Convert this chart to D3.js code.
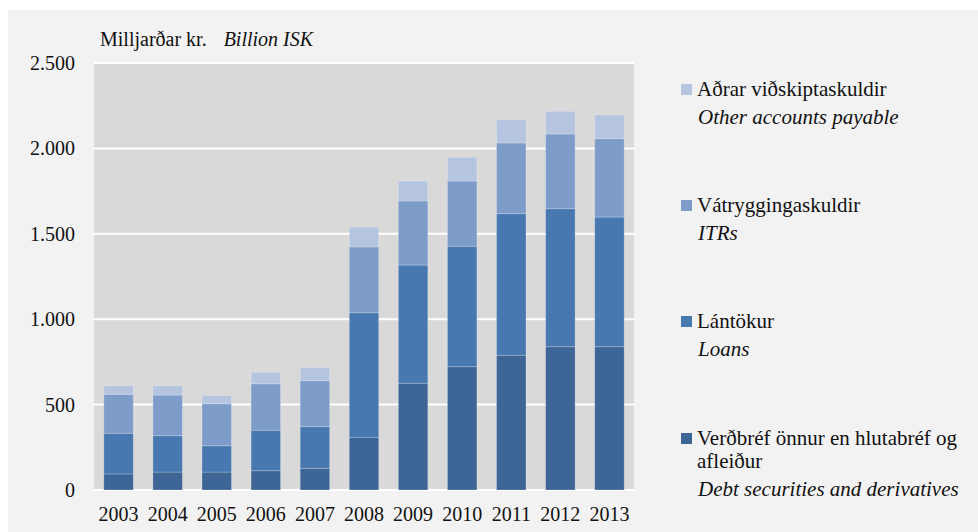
<!DOCTYPE html>
<html>
<head>
<meta charset="utf-8">
<script src="https://cdn.jsdelivr.net/npm/d3@7"></script>
<style>
  body { margin: 0; background: #fff; }
  svg { display: block; }
</style>
</head>
<body>
<div id="chart"></div>
<script>
const years = ['2003', '2004', '2005', '2006', '2007', '2008', '2009', '2010', '2011', '2012', '2013'];
const debtSecurities = [94, 105, 105, 113, 127, 309, 625, 722, 789, 839, 839];
const loans = [238, 213, 154, 237, 244, 729, 692, 705, 829, 808, 759];
const itrs = [228, 238, 246, 272, 269, 385, 375, 382, 414, 437, 459];
const otherPayable = [50, 54, 47, 67, 78, 117, 117, 139, 136, 133, 139];
const yTicks = [0, 500, 1000, 1500, 2000, 2500];
const tickLabels = ['0', '500', '1.000', '1.500', '2.000', '2.500'];

const seriesKeys = ['debt', 'loans', 'itrs', 'other'];
const colors = {debt: '#3d6596', loans: '#4878b0', itrs: '#7e9cc9', other: '#b5c4df'};
const FONT = 'Liberation Serif';

// legend is listed top to bottom, reverse of stacking order
const legendItems = [
  {key: 'other', lines: ['Aðrar viðskiptaskuldir'], en: 'Other accounts payable'},
  {key: 'itrs', lines: ['Vátryggingaskuldir'], en: 'ITRs'},
  {key: 'loans', lines: ['Lántökur'], en: 'Loans'},
  {key: 'debt', lines: ['Verðbréf önnur en hlutabréf og', 'afleiður'], en: 'Debt securities and derivatives'}
];

const width = 978, height = 532;
const margin = {top: 63, right: 344, bottom: 42, left: 94};
const innerW = width - margin.left - margin.right;
const innerH = height - margin.top - margin.bottom;

const table = years.map((y, i) => ({
  year: y,
  debt: debtSecurities[i],
  loans: loans[i],
  itrs: itrs[i],
  other: otherPayable[i]
}));

const stacked = d3.stack().keys(seriesKeys)(table);

const x = d3.scaleBand().domain(years).range([0, innerW]).paddingInner(0.4).paddingOuter(0.2);
const y = d3.scaleLinear().domain([0, 2500]).range([innerH, 0]);

const svg = d3.select('#chart').append('svg')
  .attr('width', width)
  .attr('height', height)
  .attr('font-family', FONT);

svg.append('rect')
  .attr('x', 8).attr('y', 10)
  .attr('width', width - 8).attr('height', height - 10)
  .attr('fill', '#f2f2f2');

const g = svg.append('g')
  .attr('transform', 'translate(' + margin.left + ',' + margin.top + ')');

g.append('rect')
  .attr('width', innerW).attr('height', innerH)
  .attr('fill', '#d9d9d9');

g.selectAll('.grid')
  .data(yTicks)
  .enter().append('line')
  .attr('x1', 0).attr('x2', innerW)
  .attr('y1', d => y(d)).attr('y2', d => y(d))
  .attr('stroke', '#fff')
  .attr('stroke-width', 2);

const yAxis = d3.axisLeft(y).tickValues(yTicks)
  .tickFormat((d, i) => tickLabels[i]).tickSize(0).tickPadding(19);
g.append('g')
  .call(yAxis)
  .attr('font-family', FONT)
  .call(s => s.select('.domain').remove())
  .selectAll('text')
  .attr('font-family', FONT)
  .attr('font-size', 20)
  .attr('fill', '#111');

const xAxis = d3.axisBottom(x).tickSize(0).tickPadding(17);
g.append('g')
  .attr('transform', 'translate(0,' + innerH + ')')
  .call(xAxis)
  .attr('font-family', FONT)
  .call(s => s.select('.domain').remove())
  .selectAll('text')
  .attr('font-family', FONT)
  .attr('font-size', 20)
  .attr('fill', '#111');

g.selectAll('.layer')
  .data(stacked)
  .enter().append('g')
  .attr('fill', d => colors[d.key])
  .selectAll('rect')
  .data(d => d)
  .enter().append('rect')
  .attr('x', d => x(d.data.year))
  .attr('width', x.bandwidth())
  .attr('y', d => y(d[1]))
  .attr('height', d => y(d[0]) - y(d[1]))
  .attr('stroke', 'rgba(255,255,255,0.22)')
  .attr('stroke-width', 1);

// unit title
const title = svg.append('text')
  .attr('x', 100).attr('y', 46)
  .attr('font-family', FONT)
  .attr('font-size', 20)
  .attr('fill', '#111');
title.append('tspan').text('Milljarðar kr.');
title.append('tspan').attr('dx', 17).attr('font-style', 'italic').text('Billion ISK');

// legend
const legendTop = [84, 200, 316, 433];
const legend = svg.selectAll('.legend')
  .data(legendItems)
  .enter().append('g')
  .attr('transform', (d, i) => 'translate(681,' + legendTop[i] + ')');

legend.append('rect')
  .attr('width', 11).attr('height', 11)
  .attr('fill', d => colors[d.key]);

legend.each(function(d) {
  const sel = d3.select(this);
  d.lines.forEach((line, j) => {
    sel.append('text')
      .attr('x', 16).attr('y', 12 + j * 23)
      .attr('font-family', FONT)
      .attr('font-size', 21)
      .attr('fill', '#111')
      .text(line);
  });
  sel.append('text')
    .attr('x', 17).attr('y', 12 + d.lines.length * 23 + 5)
    .attr('font-family', FONT)
    .attr('font-size', 21)
    .attr('font-style', 'italic')
    .attr('fill', '#111')
    .text(d.en);
});
</script>
</body>
</html>
